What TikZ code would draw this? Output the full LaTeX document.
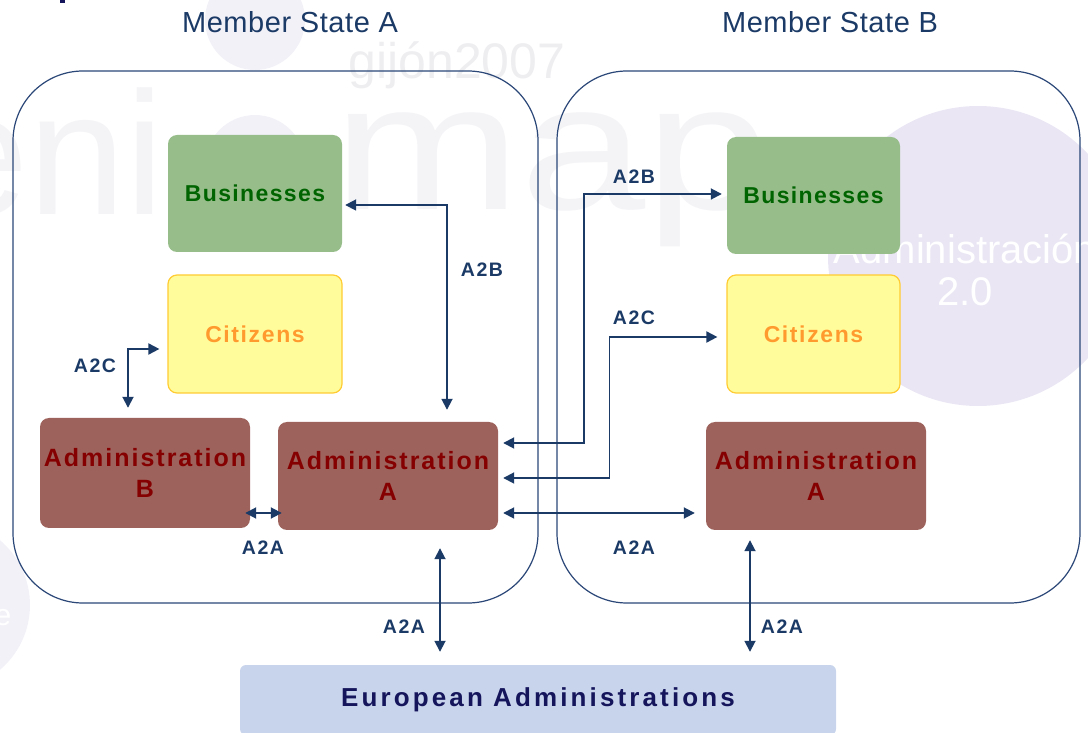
\documentclass[tikz,border=0pt]{standalone}
\usepackage{fontspec}
\setmainfont{Liberation Sans}
\usepackage{xcolor}
\usetikzlibrary{arrows.meta}

\definecolor{navy}{HTML}{1B3A66}
\definecolor{stateline}{HTML}{2B4778}
\definecolor{busfill}{HTML}{97BD8B}
\definecolor{bustext}{HTML}{006400}
\definecolor{citfill}{HTML}{FFFC9C}
\definecolor{citline}{HTML}{FFCC33}
\definecolor{cittext}{HTML}{FF9A2E}
\definecolor{admfill}{HTML}{9E625C}
\definecolor{admtext}{HTML}{850000}
\definecolor{eurofill}{HTML}{C8D4EC}
\definecolor{eurotext}{HTML}{15155C}
\definecolor{lavender}{HTML}{EAE6F4}
\definecolor{faintdisc}{HTML}{F3F1F8}
\definecolor{wmark}{HTML}{F4F4F7}
\definecolor{wmgijon}{HTML}{EEEEF1}

\begin{document}
\begin{tikzpicture}[x=1pt, y=1pt,
    state/.style={draw=stateline, line width=1.2pt, rounded corners=70pt, minimum width=525pt, minimum height=532pt},
    title/.style={text=navy, inner sep=0pt, font=\fontsize{29}{34}\selectfont\addfontfeature{LetterSpace=2}},
    box/.style={rounded corners=9pt, inner sep=0pt, align=center},
    business/.style={box, fill=busfill, text=bustext, minimum width=174pt, minimum height=117pt, font=\bfseries\fontsize{23}{27}\selectfont\addfontfeature{LetterSpace=6}},
    citizen/.style={box, fill=citfill, draw=citline, line width=1.2pt, text=cittext, minimum width=174pt, minimum height=118pt, font=\bfseries\fontsize{23}{27}\selectfont\addfontfeature{LetterSpace=7}},
    admin/.style={box, fill=admfill, text=admtext, minimum width=220pt, minimum height=108pt, font=\bfseries\fontsize{25}{31}\selectfont\addfontfeature{LetterSpace=8}},
    euro/.style={box, rounded corners=6pt, fill=eurofill, text=eurotext, minimum width=596pt, minimum height=70pt, font=\bfseries\fontsize{26}{30}\selectfont\addfontfeature{LetterSpace=12}},
    lbl/.style={text=navy, inner sep=0pt, font=\bfseries\fontsize{19.5}{23}\selectfont\addfontfeature{LetterSpace=8}},
    link/.style={draw=navy, line width=1.8pt, {Triangle[length=11pt,width=11pt]}-{Triangle[length=11pt,width=11pt]}},
    wmtext/.style={text=wmark, inner sep=0pt, anchor=base west}
]
\useasboundingbox (0,0) rectangle (1088,732);
\clip (0,0) rectangle (1088,732);

% Background marks
\fill[faintdisc] (255,712) circle (50);
\fill[faintdisc] (255,567) circle (50);
\fill[faintdisc] (-55,127) circle (85);
\fill[eurotext] (60,729) rectangle (65,732);
\node[wmtext, font=\fontsize{175}{175}\selectfont] (wmEni) at (-69,517) {eni};
\node[wmtext, xscale=1.25, font=\fontsize{180}{180}\selectfont] (wmMap) at (333,522) {map};
\node[text=wmgijon, inner sep=0pt, font=\fontsize{50}{50}\selectfont] (wmGijon) at (457,667) {gijón2007};
\fill[lavender] (978,476) circle (150);
\node[text=white, align=center, inner sep=0pt, font=\fontsize{40}{42}\selectfont] (wmAdm) at (965,462) {Administración\\2.0};
\node[text=white, inner sep=0pt, font=\fontsize{30}{30}\selectfont] (wmE) at (3,114) {e};

% Member State A
\node[state] (stateA) at (275.5,395) {};
\node[title] (titleA) at (290,710) {Member State A};
\node[business] (busA) at (255,538.5) {Businesses};
\node[citizen] (citA) at (255,398) {Citizens};
\node[admin, minimum width=210pt, minimum height=110pt] (admB) at (145,259) {Administration\\B};
\node[admin] (admA) at (388,256) {Administration\\A};

% Member State B
\node[state, minimum width=523pt] (stateB) at (818.5,395) {};
\node[title] (titleB) at (830,710) {Member State B};
\node[business, minimum width=173pt] (busB) at (813.5,536.5) {Businesses};
\node[citizen, minimum width=173pt] (citB) at (813.5,398) {Citizens};
\node[admin] (admAB) at (816,256) {Administration\\A};

% European level
\node[euro] (euro) at (538,32) {European Administrations};

% Links inside Member State A
\draw[link] ([shift={(3,-11.5)}]busA.east) -| ([shift={(59,12)}]admA.north);
\draw[link] ([shift={(-17,10)}]admB.north) |- ([shift={(-8,-15)}]citA.west);
\draw[link] ([shift={(-5,-40)}]admB.east) -- ([shift={(4,-37)}]admA.west);

% Links across the border
\draw[link] ([shift={(5,33)}]admA.east) -| ([shift={(-143,1.5)}]busB.west) -- ([shift={(-5,1.5)}]busB.west);
\draw[link] ([shift={(5,-2)}]admA.east) -| ([shift={(-117,-3)}]citB.west) -- ([shift={(-9,-3)}]citB.west);
\draw[link] ([shift={(5,-37)}]admA.east) -- ([shift={(-11,-37)}]admAB.west);

% Links to European Administrations
\draw[link] ([shift={(52,-18)}]admA.south) -- ([shift={(-98,13)}]euro.north);
\draw[link] ([shift={(-66,-10)}]admAB.south) -- ([shift={(212,13)}]euro.north);

% Labels
\node[lbl] (lA2Bin) at (482,462) {A2B};
\node[lbl] (lA2Cin) at (95,366) {A2C};
\node[lbl] (lA2Ain) at (263,184) {A2A};
\node[lbl] (lA2Bx) at (634,555) {A2B};
\node[lbl] (lA2Cx) at (634,414) {A2C};
\node[lbl] (lA2Ax) at (634,184) {A2A};
\node[lbl] (lA2Ea) at (404,105) {A2A};
\node[lbl] (lA2Eb) at (782,105) {A2A};
\end{tikzpicture}
\end{document}
